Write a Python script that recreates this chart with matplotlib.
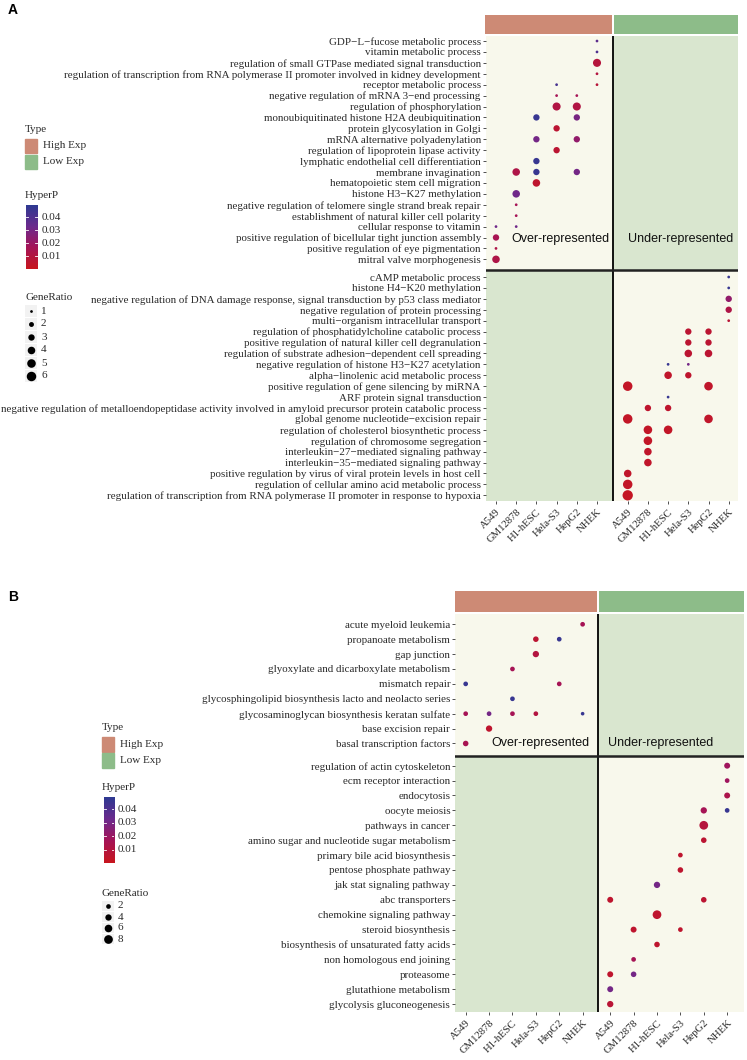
import numpy as np
import matplotlib
matplotlib.use('Agg')
import matplotlib.pyplot as plt
from matplotlib.colors import LinearSegmentedColormap
from matplotlib.patches import Rectangle

plt.rcParams['font.family'] = ['Liberation Serif', 'DejaVu Serif']

cells = ['A549', 'GM12878', 'H1-hESC', 'Hela-S3', 'HepG2', 'NHEK']

# panel A, over-represented terms (high exp) and under-represented (low exp)
a_over_terms = [
    'GDP\u2212L\u2212fucose metabolic process',
    'vitamin metabolic process',
    'regulation of small GTPase mediated signal transduction',
    'regulation of transcription from RNA polymerase II promoter involved in kidney development',
    'receptor metabolic process',
    'negative regulation of mRNA 3\u2212end processing',
    'regulation of phosphorylation',
    'monoubiquitinated histone H2A deubiquitination',
    'protein glycosylation in Golgi',
    'mRNA alternative polyadenylation',
    'regulation of lipoprotein lipase activity',
    'lymphatic endothelial cell differentiation',
    'membrane invagination',
    'hematopoietic stem cell migration',
    'histone H3\u2212K27 methylation',
    'negative regulation of telomere single strand break repair',
    'establishment of natural killer cell polarity',
    'cellular response to vitamin',
    'positive regulation of bicellular tight junction assembly',
    'positive regulation of eye pigmentation',
    'mitral valve morphogenesis',
]
# (term index, cell, HyperP, GeneRatio)
a_over_dots = [
    (0, 'NHEK', 0.036, 1), (1, 'NHEK', 0.040, 1), (2, 'NHEK', 0.009, 4.5),
    (3, 'NHEK', 0.010, 1), (4, 'Hela-S3', 0.042, 1), (4, 'NHEK', 0.008, 1),
    (5, 'Hela-S3', 0.016, 1), (5, 'HepG2', 0.016, 1),
    (6, 'Hela-S3', 0.011, 4.5), (6, 'HepG2', 0.011, 4.5),
    (7, 'H1-hESC', 0.046, 3), (7, 'HepG2', 0.029, 3),
    (8, 'Hela-S3', 0.006, 3),
    (9, 'H1-hESC', 0.030, 3), (9, 'HepG2', 0.022, 3),
    (10, 'Hela-S3', 0.006, 3),
    (11, 'H1-hESC', 0.046, 3),
    (12, 'GM12878', 0.012, 4), (12, 'H1-hESC', 0.046, 3), (12, 'HepG2', 0.030, 3),
    (13, 'H1-hESC', 0.005, 4),
    (14, 'GM12878', 0.031, 4),
    (15, 'GM12878', 0.016, 1), (16, 'GM12878', 0.016, 1),
    (17, 'A549', 0.031, 1), (17, 'GM12878', 0.031, 1),
    (18, 'A549', 0.015, 3), (19, 'A549', 0.012, 1), (20, 'A549', 0.012, 4),
]

a_under_terms = [
    'cAMP metabolic process',
    'histone H4\u2212K20 methylation',
    'negative regulation of DNA damage response, signal transduction by p53 class mediator',
    'negative regulation of protein processing',
    'multi\u2212organism intracellular transport',
    'regulation of phosphatidylcholine catabolic process',
    'positive regulation of natural killer cell degranulation',
    'regulation of substrate adhesion\u2212dependent cell spreading',
    'negative regulation of histone H3\u2212K27 acetylation',
    'alpha\u2212linolenic acid metabolic process',
    'positive regulation of gene silencing by miRNA',
    'ARF protein signal transduction',
    'negative regulation of metalloendopeptidase activity involved in amyloid precursor protein catabolic process',
    'global genome nucleotide\u2212excision repair',
    'regulation of cholesterol biosynthetic process',
    'regulation of chromosome segregation',
    'interleukin\u221227\u2212mediated signaling pathway',
    'interleukin\u221235\u2212mediated signaling pathway',
    'positive regulation by virus of viral protein levels in host cell',
    'regulation of cellular amino acid metabolic process',
    'regulation of transcription from RNA polymerase II promoter in response to hypoxia',
]
a_under_dots = [
    (0, 'NHEK', 0.046, 1), (1, 'NHEK', 0.046, 1), (2, 'NHEK', 0.022, 3),
    (3, 'NHEK', 0.012, 3), (4, 'NHEK', 0.007, 1),
    (5, 'Hela-S3', 0.006, 3), (5, 'HepG2', 0.006, 3),
    (6, 'Hela-S3', 0.006, 3), (6, 'HepG2', 0.006, 3),
    (7, 'Hela-S3', 0.006, 4), (7, 'HepG2', 0.006, 4),
    (8, 'H1-hESC', 0.046, 1), (8, 'Hela-S3', 0.030, 1),
    (9, 'H1-hESC', 0.004, 4), (9, 'Hela-S3', 0.005, 3),
    (10, 'A549', 0.003, 6), (10, 'HepG2', 0.004, 5),
    (11, 'H1-hESC', 0.046, 1),
    (12, 'GM12878', 0.005, 3), (12, 'H1-hESC', 0.005, 3),
    (13, 'A549', 0.003, 6), (13, 'HepG2', 0.004, 5),
    (14, 'GM12878', 0.003, 5), (14, 'H1-hESC', 0.003, 5),
    (15, 'GM12878', 0.003, 5), (16, 'GM12878', 0.004, 4), (17, 'GM12878', 0.004, 4),
    (18, 'A549', 0.004, 4), (19, 'A549', 0.003, 6), (20, 'A549', 0.002, 7),
]

# panel B (KEGG)
b_over_terms = [
    'acute myeloid leukemia',
    'propanoate metabolism',
    'gap junction',
    'glyoxylate and dicarboxylate metabolism',
    'mismatch repair',
    'glycosphingolipid biosynthesis lacto and neolacto series',
    'glycosaminoglycan biosynthesis keratan sulfate',
    'base excision repair',
    'basal transcription factors',
]
b_over_dots = [
    (0, 'NHEK', 0.016, 2),
    (1, 'Hela-S3', 0.006, 3), (1, 'HepG2', 0.046, 2),
    (2, 'Hela-S3', 0.010, 4),
    (3, 'H1-hESC', 0.016, 2),
    (4, 'A549', 0.046, 2), (4, 'HepG2', 0.016, 2),
    (5, 'H1-hESC', 0.046, 2),
    (6, 'A549', 0.016, 2), (6, 'GM12878', 0.030, 2), (6, 'H1-hESC', 0.016, 2),
    (6, 'Hela-S3', 0.010, 2), (6, 'NHEK', 0.046, 1),
    (7, 'GM12878', 0.005, 4),
    (8, 'A549', 0.015, 3),
]
b_under_terms = [
    'regulation of actin cytoskeleton',
    'ecm receptor interaction',
    'endocytosis',
    'oocyte meiosis',
    'pathways in cancer',
    'amino sugar and nucleotide sugar metabolism',
    'primary bile acid biosynthesis',
    'pentose phosphate pathway',
    'jak stat signaling pathway',
    'abc transporters',
    'chemokine signaling pathway',
    'steroid biosynthesis',
    'biosynthesis of unsaturated fatty acids',
    'non homologous end joining',
    'proteasome',
    'glutathione metabolism',
    'glycolysis gluconeogenesis',
]
b_under_dots = [
    (0, 'NHEK', 0.018, 3.5), (1, 'NHEK', 0.018, 2), (2, 'NHEK', 0.013, 3.5),
    (3, 'HepG2', 0.016, 4), (3, 'NHEK', 0.046, 2),
    (4, 'HepG2', 0.009, 8),
    (5, 'HepG2', 0.006, 3),
    (6, 'Hela-S3', 0.005, 2), (7, 'Hela-S3', 0.005, 3),
    (8, 'H1-hESC', 0.030, 4),
    (9, 'A549', 0.005, 3.5), (9, 'HepG2', 0.006, 3),
    (10, 'H1-hESC', 0.005, 8),
    (11, 'GM12878', 0.005, 3.5), (11, 'Hela-S3', 0.005, 2),
    (12, 'H1-hESC', 0.005, 3),
    (13, 'GM12878', 0.016, 2),
    (14, 'A549', 0.005, 3.5), (14, 'GM12878', 0.030, 3),
    (15, 'A549', 0.030, 3.5),
    (16, 'A549', 0.007, 4),
]

W, H = 747, 1060
COL_HIGH = '#CD8A75'
COL_LOW = '#8DBC89'
BG_YEL = '#F8F8EC'
BG_GRN = '#D9E6CF'
TXT = '#2a2a2a'
cmap = LinearSegmentedColormap.from_list(
    'hp', [(0, '#C8161D'), (0.35, '#A3145A'), (0.65, '#6C2A8D'), (1, '#2B3A92')])
P_MAX = 0.0495


def fx(x):
    return x / W


def fy(y):
    return 1 - y / H


def box(x0, x1, y0, y1):
    return [fx(x0), fy(y1), fx(x1) - fx(x0), fy(y0) - fy(y1)]


fig = plt.figure(figsize=(W / 100, H / 100), dpi=100)


def dot_panel(rect, strip_rect, over_terms, over_dots, under_terms, under_dots,
              low_off, gap, xlim, div, ylim, size_fn, lab_pos, fs=7.9):
    ax = fig.add_axes(rect)
    n_over = len(over_terms)
    y_over = np.arange(n_over)
    y_under = n_over + gap + np.arange(len(under_terms))
    hline = y_under[0] - 0.65
    # backgrounds
    ax.add_patch(Rectangle((xlim[0], ylim[0]), div - xlim[0], hline - ylim[0], color=BG_YEL, lw=0, zorder=0))
    ax.add_patch(Rectangle((div, ylim[0]), xlim[1] - div, hline - ylim[0], color=BG_GRN, lw=0, zorder=0))
    ax.add_patch(Rectangle((xlim[0], hline), div - xlim[0], ylim[1] - hline, color=BG_GRN, lw=0, zorder=0))
    ax.add_patch(Rectangle((div, hline), xlim[1] - div, ylim[1] - hline, color=BG_YEL, lw=0, zorder=0))
    ax.axvline(div, color='black', lw=1.3, zorder=1)
    ax.axhline(hline, color='#222222', lw=1.8, zorder=1)

    for dots, ys, off in [(over_dots, y_over, 0), (under_dots, y_under, low_off)]:
        xs = [cells.index(c) + off for _, c, _, _ in dots]
        yy = [ys[t] for t, _, _, _ in dots]
        cs = [cmap(p / P_MAX) for _, _, p, _ in dots]
        ss = [size_fn(g) for _, _, _, g in dots]
        ax.scatter(xs, yy, s=ss, c=cs, linewidths=0, zorder=3)

    xt = list(np.arange(6)) + list(np.arange(6) + low_off)
    ax.set_xticks(xt, cells + cells, rotation=45, ha='right', va='top',
                  rotation_mode='anchor', fontsize=7.7, color=TXT)
    ax.set_yticks(list(y_over) + list(y_under), over_terms + under_terms, fontsize=fs, color=TXT)
    ax.tick_params(length=2.2, width=0.6, color='#333333', pad=1.5)
    ax.tick_params(axis='x', pad=2.5)
    ax.set_xlim(xlim)
    ax.set_ylim(ylim[1], ylim[0])
    for s in ax.spines.values():
        s.set_visible(False)

    (xo, xu, yl) = lab_pos
    ax.text(xo, yl, 'Over-represented', ha='center', va='center',
            fontsize=9, family='Liberation Sans', color='#111111', zorder=4)
    ax.text(xu, yl, 'Under-represented', ha='center', va='center',
            fontsize=9, family='Liberation Sans', color='#111111', zorder=4)

    st = fig.add_axes(strip_rect)
    st.add_patch(Rectangle((xlim[0], 0), div - 0.04 - xlim[0], 1, color=COL_HIGH, lw=0))
    st.add_patch(Rectangle((div + 0.04, 0), xlim[1] - div - 0.04, 1, color=COL_LOW, lw=0))
    st.set_xlim(xlim)
    st.set_ylim(0, 1)
    st.axis('off')
    return ax


def legend(x, y_type, y_hp, cb, y_gr, sizes, size_fn, key_h, gr_ys):
    fs = 8
    fig.text(fx(x), fy(y_type), 'Type', fontsize=fs, va='center', color=TXT)
    for i, (lab, col) in enumerate([('High Exp', COL_HIGH), ('Low Exp', COL_LOW)]):
        y0 = y_type + 10 + i * (key_h + 1.5)
        fig.patches.append(Rectangle((fx(x), fy(y0 + key_h)), fx(12), key_h / H, color=col,
                                     transform=fig.transFigure, figure=fig))
        fig.text(fx(x + 18), fy(y0 + key_h / 2), lab, fontsize=fs, va='center', color=TXT)
    fig.text(fx(x), fy(y_hp), 'HyperP', fontsize=fs, va='center', color=TXT)
    cax = fig.add_axes(box(*cb))
    grad = np.linspace(0, 1, 256).reshape(-1, 1)
    cax.imshow(grad, cmap=cmap, aspect='auto', origin='lower', extent=[0, 1, 0, P_MAX],
               interpolation='bilinear')
    for v in [0.01, 0.02, 0.03, 0.04]:
        cax.plot([0, 0.2], [v, v], color='white', lw=0.6)
        cax.plot([0.8, 1], [v, v], color='white', lw=0.6)
        yv = cb[3] - (cb[3] - cb[2]) * v / P_MAX
        fig.text(fx(cb[1] + 3.5), fy(yv), '%.2f' % v, fontsize=fs, va='center', color=TXT)
    cax.set_xlim(0, 1)
    cax.set_ylim(0, P_MAX)
    cax.axis('off')
    fig.text(fx(x), fy(y_gr), 'GeneRatio', fontsize=fs, va='center', color=TXT)
    kax = fig.add_axes([0, 0, 1, 1])
    kax.set_xlim(0, W)
    kax.set_ylim(H, 0)
    kax.axis('off')
    step = gr_ys[1] - gr_ys[0]
    for g, yk in zip(sizes, gr_ys):
        kax.add_patch(Rectangle((x, yk - step / 2 + 0.5), 12, step - 1, color='#F2F2F2', lw=0))
        kax.scatter([x + 6], [yk], s=size_fn(g), color='black', linewidths=0)
        fig.text(fx(x + 16), fy(yk), str(g), fontsize=fs, va='center', color=TXT)


def size_a(g):
    return (16.5 * g - 9) * 0.5184


def size_b(g):
    return (9 * g + 4) * 0.5184


# panel A
dot_panel(box(486, 738, 36, 501), box(484.7, 738, 14.7, 34),
          a_over_terms, a_over_dots, a_under_terms, a_under_dots,
          low_off=6.52, gap=0.62, xlim=(-0.495, 11.98), div=5.81,
          ylim=(-0.46, 42.14), size_fn=size_a, lab_pos=(3.17, 9.13, 18.1))
# panel B
dot_panel(box(455.3, 744, 614.3, 1012), box(455.3, 744, 591, 611.7),
          b_over_terms, b_over_dots, b_under_terms, b_under_dots,
          low_off=6.18, gap=0.49, xlim=(-0.444, 11.9), div=5.65,
          ylim=(-0.67, 26.02), size_fn=size_b, lab_pos=(3.19, 8.32, 7.95))

legend(25, 129, 196, (26, 37.7, 205, 269.3), 297, [1, 2, 3, 4, 5, 6], size_a, 14,
       [311, 324, 337, 350, 363, 376])
legend(102, 727, 788, (103.5, 114.3, 796.7, 863.3), 893.5, [2, 4, 6, 8], size_b, 14.5,
       [906, 917, 928, 939])

fig.text(fx(8), fy(10), 'A', fontsize=10, weight='bold', family='Liberation Sans', va='center')
fig.text(fx(8), fy(597), 'B', fontsize=10, weight='bold', family='Liberation Sans', va='center')

fig.savefig('out.png', dpi=100)
